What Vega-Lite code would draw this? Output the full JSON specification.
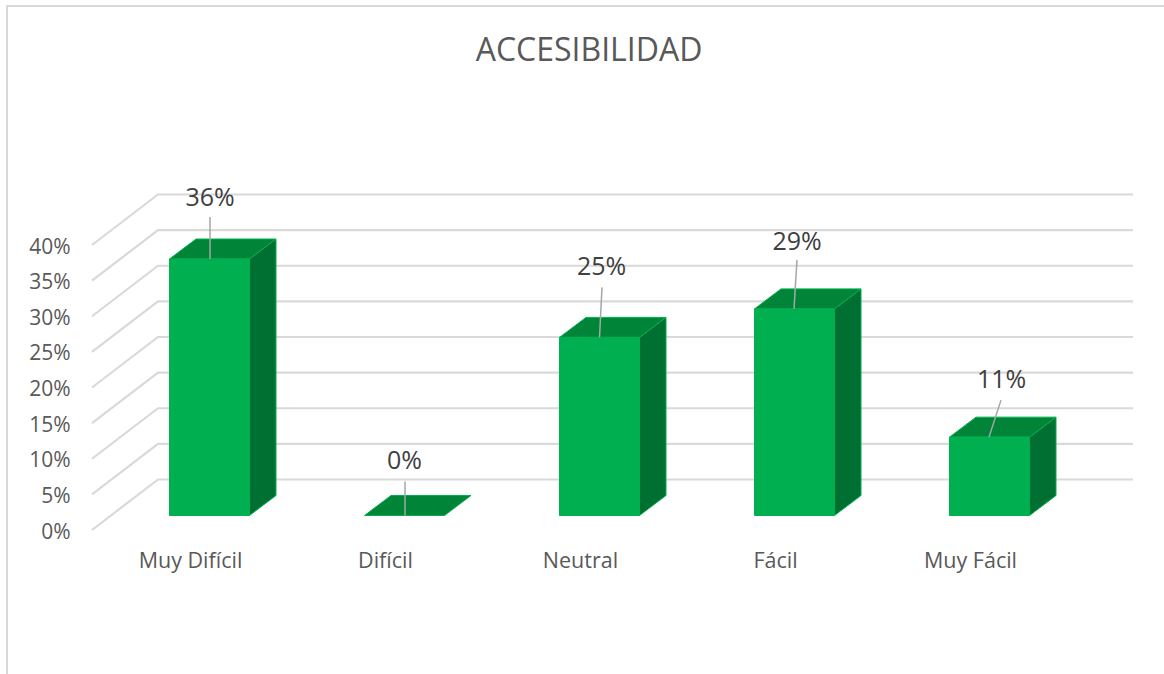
{
  "$schema": "https://vega.github.io/schema/vega-lite/v6.json",
  "width": 1164,
  "height": 674,
  "autosize": {"type": "none"},
  "padding": 0,
  "background": "#ffffff",
  "config": {"view": {"stroke": null}, "font": "Open Sans"},
  "title": {
    "text": "ACCESIBILIDAD",
    "font": "Open Sans",
    "fontSize": 32,
    "fontWeight": "normal",
    "color": "#595959",
    "anchor": "middle",
    "frame": "group",
    "baseline": "middle",
    "offset": 0,
    "dx": 7,
    "dy": 83
  },
  "data": {
    "values": [
      {"categoria": "Muy Difícil", "valor": 0.36},
      {"categoria": "Difícil", "valor": 0},
      {"categoria": "Neutral", "valor": 0.25},
      {"categoria": "Fácil", "valor": 0.29},
      {"categoria": "Muy Fácil", "valor": 0.11}
    ]
  },
  "encoding": {
    "x": {
      "field": "categoria",
      "type": "nominal",
      "sort": null,
      "title": null,
      "scale": {
        "domain": ["Muy Difícil", "Difícil", "Neutral", "Fácil", "Muy Fácil"],
        "range": [112, 1087],
        "paddingInner": 0,
        "paddingOuter": 0
      },
      "axis": {
        "orient": "bottom",
        "offset": -124,
        "domain": false,
        "ticks": false,
        "grid": false,
        "labelAngle": 0,
        "labelPadding": 0,
        "labelOffset": -19,
        "labelFont": "Open Sans",
        "labelFontSize": 21.5,
        "labelColor": "#595959",
        "labelBaseline": "top"
      }
    },
    "y": {
      "field": "valor",
      "type": "quantitative",
      "title": null,
      "scale": {"domain": [0, 0.4], "range": [515.5, 230.5], "nice": false},
      "axis": {
        "orient": "left",
        "offset": -70,
        "domain": false,
        "ticks": false,
        "grid": false,
        "values": [0, 0.05, 0.1, 0.15, 0.2, 0.25, 0.3, 0.35, 0.4],
        "format": ".0%",
        "labelPadding": 0,
        "labelOffset": 16.5,
        "labelFont": "Open Sans",
        "labelFontSize": 21,
        "labelColor": "#595959"
      }
    }
  },
  "layer": [
    {
      "description": "Outer chart frame, top and left edges",
      "data": {"values": [{"marco": 0}]},
      "mark": {
        "type": "point",
        "shape": "M-202.5,160L-202.5,-509.5L960,-509.5",
        "size": 4,
        "filled": false,
        "fill": "transparent",
        "stroke": "#d9d9d9",
        "strokeWidth": 2,
        "opacity": 1
      },
      "encoding": {
        "x": {"datum": "Muy Difícil"},
        "y": {"field": "marco", "type": "quantitative"}
      }
    },
    {
      "description": "Wall gridlines: side wall diagonal plus back wall horizontal",
      "data": {
        "values": [
          {"marca": 0}, {"marca": 0.05}, {"marca": 0.1}, {"marca": 0.15}, {"marca": 0.2},
          {"marca": 0.25}, {"marca": 0.3}, {"marca": 0.35}, {"marca": 0.4}
        ]
      },
      "mark": {
        "type": "point",
        "shape": "M-117.5,14.5L-51.5,-36L923.5,-36",
        "size": 4,
        "filled": false,
        "fill": "transparent",
        "stroke": "#d9d9d9",
        "strokeWidth": 2.2,
        "opacity": 1
      },
      "encoding": {
        "x": {"datum": "Muy Difícil"},
        "y": {"field": "marca", "type": "quantitative"}
      }
    },
    {
      "description": "Right side face, body",
      "transform": [{"filter": "datum.valor > 0"}],
      "mark": {
        "type": "bar",
        "width": 28,
        "xOffset": 52.5,
        "y2Offset": -20,
        "color": "#006f32",
        "stroke": null
      },
      "encoding": {"y2": {"datum": 0}}
    },
    {
      "description": "Right side face, slanted top end",
      "transform": [{"filter": "datum.valor > 0"}],
      "mark": {
        "type": "point",
        "shape": "M40,0L66.5,-20L66.5,1L40,1Z",
        "size": 4,
        "filled": true,
        "fill": "#006f32",
        "stroke": null,
        "opacity": 1
      }
    },
    {
      "description": "Right side face, slanted bottom end",
      "transform": [{"filter": "datum.valor > 0"}],
      "mark": {
        "type": "point",
        "shape": "M40,0L66.5,-20L66.5,-21L40,-21Z",
        "size": 4,
        "filled": true,
        "fill": "#006f32",
        "stroke": null,
        "opacity": 1
      },
      "encoding": {"y": {"datum": 0}}
    },
    {
      "description": "Bright edge along the bottom of the side face",
      "transform": [{"filter": "datum.valor > 0"}],
      "mark": {
        "type": "point",
        "shape": "M40,0L66.5,-20",
        "size": 4,
        "filled": false,
        "fill": "transparent",
        "stroke": "#00b050",
        "strokeWidth": 1,
        "opacity": 1
      },
      "encoding": {"y": {"datum": 0}}
    },
    {
      "description": "Bright edge along the back of the side face",
      "transform": [{"filter": "datum.valor > 0"}],
      "mark": {
        "type": "rule",
        "xOffset": 66.5,
        "yOffset": -20,
        "y2Offset": -20,
        "color": "#00b050",
        "strokeWidth": 1
      },
      "encoding": {"y2": {"datum": 0}}
    },
    {
      "description": "Top face",
      "mark": {
        "type": "point",
        "shape": "M-40,0L-13.5,-20L66.5,-20L40,0Z",
        "size": 4,
        "filled": true,
        "fill": "#008437",
        "stroke": "#00b050",
        "strokeWidth": 1,
        "opacity": 1
      }
    },
    {
      "description": "Front face",
      "transform": [{"filter": "datum.valor > 0"}],
      "mark": {
        "type": "bar",
        "width": 80,
        "color": "#00b050",
        "stroke": "#00b050",
        "strokeWidth": 1
      },
      "encoding": {"y2": {"datum": 0}}
    },
    {
      "description": "Leader lines from bar tops to the value labels",
      "mark": {
        "type": "point",
        "size": 4,
        "filled": false,
        "fill": "transparent",
        "stroke": "#a6a6a6",
        "strokeWidth": 1.5,
        "opacity": 1
      },
      "encoding": {
        "shape": {
          "field": "categoria",
          "type": "nominal",
          "legend": null,
          "scale": {
            "domain": ["Muy Difícil", "Difícil", "Neutral", "Fácil", "Muy Fácil"],
            "range": [
              "M0.5,0L0.5,-42",
              "M0.5,0L0.5,-34",
              "M0,0L2.5,-50",
              "M-0.5,0L2.5,-49",
              "M-0.5,0L11.5,-37"
            ]
          }
        }
      }
    },
    {
      "description": "Value labels",
      "mark": {
        "type": "text",
        "font": "Open Sans",
        "fontSize": 25,
        "color": "#404040",
        "baseline": "middle",
        "align": "center",
        "xOffset": {"expr": "{'Muy Difícil':0.5,'Difícil':0,'Neutral':2,'Fácil':2.5,'Muy Fácil':12}[datum.categoria]"},
        "yOffset": {"expr": "{'Muy Difícil':-61.5,'Difícil':-54.5,'Neutral':-70,'Fácil':-66.5,'Muy Fácil':-57}[datum.categoria]"}
      },
      "encoding": {
        "text": {"field": "valor", "type": "quantitative", "format": ".0%"}
      }
    }
  ]
}
